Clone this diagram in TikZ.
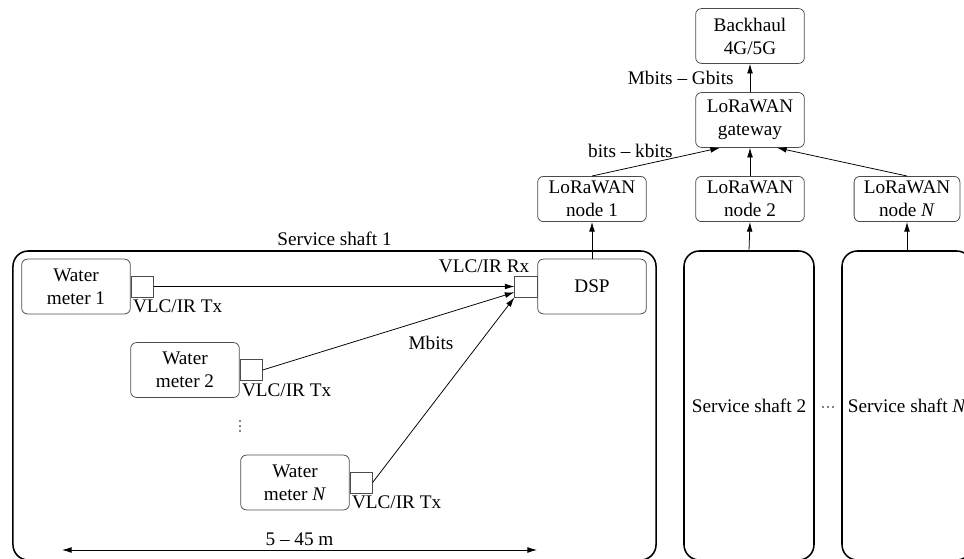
\documentclass[tikz,border=0pt]{standalone}
\usepackage{fontspec}
\setmainfont{Liberation Serif}
\usetikzlibrary{arrows.meta,calc}

\begin{document}
\begin{tikzpicture}[
  x=0.52pt, y=-0.52pt,
  >={Latex[length=5pt,width=3pt]},
  box/.style={draw=black!70, rounded corners=3pt, align=center, inner sep=1pt,
    minimum width=56.5pt, minimum height=28.5pt},
  lora/.style={box, minimum height=23.5pt},
  port/.style={draw=black!70, inner sep=0pt, minimum width=11.5pt, minimum height=11pt},
  shaft/.style={draw, line width=0.8pt, rounded corners=8pt, inner sep=0pt,
    minimum height=160.7pt},
  tag/.style={inner sep=1pt},
]
\useasboundingbox (0,0) rectangle (964,558);
\clip (0,0) rectangle (964,558);

\node[box] (bh) at (750,36) {Backhaul\\4G/5G};
\node[box] (gw) at (750,120) {LoRaWAN\\gateway};
\node[lora] (n1) at (592,199) {LoRaWAN\\node 1};
\node[lora] (n2) at (750,199) {LoRaWAN\\node 2};
\node[lora, minimum width=55pt] (nN) at (907,199) {LoRaWAN\\node \textit{N}};

\node[shaft, minimum width=334.4pt] (sh1) at (334.5,405.5) {};
\node[shaft, minimum width=67.6pt] (sh2) at (749,405.5) {Service shaft 2};
\node[shaft, minimum width=67.6pt] (shN) at (907,405.5) {Service shaft \textit{N}};
\node[tag, above=1pt] (sh1lbl) at (sh1.north) {Service shaft 1};
\foreach \x in {823,828,833}
  \fill (\x,407) circle (0.45pt);

\node[box] (dsp) at (592,286.5) {DSP};
\node[port, anchor=east] (rx) at (dsp.west) {};
\node[tag, anchor=south east] (rxlbl) at ([xshift=-3pt]rx.north east) {VLC/IR Rx};

\node[box] (m1) at (76,286.5) {Water\\meter 1};
\node[port, anchor=west] (tx1) at (m1.east) {};
\node[tag, anchor=north west] (tx1lbl) at (tx1.south west) {VLC/IR Tx};

\node[box] (m2) at (185,370) {Water\\meter 2};
\node[port, anchor=west] (tx2) at (m2.east) {};
\node[tag, anchor=north west] (tx2lbl) at (tx2.south west) {VLC/IR Tx};

\foreach \y in {421,426,431}
  \fill (240,\y) circle (0.5pt);

\node[box] (mN) at (295,482.5) {Water\\meter \textit{N}};
\node[port, anchor=west] (txN) at (mN.east) {};
\node[tag, anchor=north west] (txNlbl) at (txN.south west) {VLC/IR Tx};

\draw[->] (tx1.east) -- (rx.west);
\draw[->] (tx2.east) -- ([yshift=-3pt]rx.west);
\draw[->] (txN.east) -- (rx.south west);
\node (mb) at (431,343) {Mbits};

\draw[->] (dsp.north) -- (n1.south);
\draw[->] (sh2.north) -- (n2.south);
\draw[->] (shN.north) -- (nN.south);
\draw[->] (n1.north) -- node[tag, pos=0.3, above=4pt] (kb) {bits -- kbits} ($(gw.south)+(-30,0)$);
\draw[->] (n2.north) -- (gw.south);
\draw[->] (nN.north) -- ($(gw.south)+(27,0)$);
\draw[->] (gw.north) -- node[left=5pt] (gb) {Mbits -- Gbits} (bh.south);

\coordinate (dl) at (62,550);
\coordinate (dr) at (537,550);
\draw[<->] (dl) -- node[above, inner sep=2pt] (dist) {5 -- 45 m} (dr);
\end{tikzpicture}
\end{document}
